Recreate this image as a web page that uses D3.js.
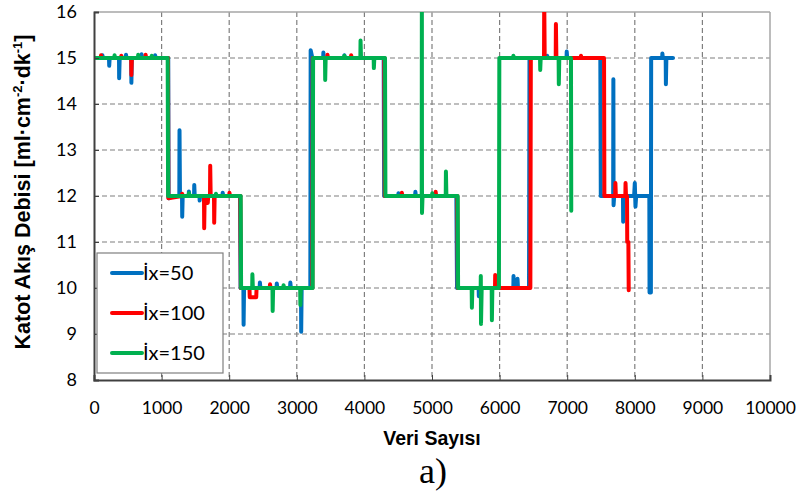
<!DOCTYPE html>
<html>
<head>
<meta charset="utf-8">
<script src="https://cdn.jsdelivr.net/npm/d3@7/dist/d3.min.js"></script>
<style>
  html, body { margin: 0; padding: 0; background: #fff; }
  svg { display: block; }
</style>
</head>
<body>
<svg id="chart" width="799" height="493"></svg>
<script>
// Cathode flow rate measurements, [sample index, flow] pairs per current setting
const seriesNames = ["İx=50", "İx=100", "İx=150"];
const seriesColors = ["#0070C0", "#FF0000", "#00B050"];

const ix50 = [
  [0,15],[120,15],[125,15.06],[132,15],[222,15],[225,14.83],[232,15],[370,15],[372,14.56],[380,15],[470,15],[474,15.07],[480,15],[550,15],[553,14.46],[560,15],
  [700,15],[704,15.08],[712,15],[900,15],[904,15.06],[912,15],[1098,15],[1104,11.95],[1180,12],[1262,12],[1265,13.43],[1272,12],[1302,12],[1305,11.55],[1312,12],
  [1400,12],[1404,12.1],[1412,12],[1480,12],[1483,12.24],[1490,12],[1560,12],[1563,11.9],[1570,12],[1900,12],[1904,12.07],[1912,12],[2160,12],[2168,10],[2210,10],[2213,9.2],[2220,10],
  [2450,10],[2454,10.12],[2462,10],[2700,10],[2704,10.1],[2712,10],[2900,10],[2904,10.12],[2912,10],[3062,10],[3065,9.05],[3072,10],[3200,10],[3205,15.17],[3230,15],
  [3390,15],[3393,15.12],[3400,15],[3700,15],[3704,15.06],[3712,15],[4285,15],[4292,12],[4500,12],[4504,12.06],[4512,12],[4750,12],[4754,12.09],[4762,12],[5360,12],[5370,10],
  [5600,10],[5690,10],[5693,9.82],[5700,10],[6203,10],[6206,10.26],[6213,10],[6262,10],[6265,10.2],[6272,10],[6435,10],[6442,15],
  [6700,15],[6704,15.05],[6712,15],[6990,15],[6993,15.14],[7000,15],[7490,15],[7497,12],[7680,12],[7683,14.54],[7686,11.8],[7695,12],[7825,12],[7828,11.44],[7835,12],
  [7990,12],[8000,12.28],[8010,11.77],[8020,12],[8215,12],[8218,9.9],[8238,9.9],[8242,15],[8405,15],[8408,15.1],[8415,15],
  [8457,15],[8460,14.43],[8467,15],[8565,15]
];

const ix100 = [
  [0,15],[100,15],[104,15.06],[112,15],[400,15],[404,15.05],[412,15],[550,15],[553,14.63],[560,15],[760,15],[764,15.07],[772,15],[1095,15],[1100,11.95],
  [1300,12],[1304,12.05],[1312,12],[1627,12],[1630,11.3],[1637,12],[1680,12],[1683,11.85],[1690,12],[1716,12],[1719,12.66],[1726,12],[1775,12],[1778,11.42],[1785,12],
  [2000,12],[2004,12.07],[2012,12],[2165,12],[2172,10],[2300,10],[2304,9.8],[2400,9.8],[2405,10],[2600,10],[2604,10.08],[2612,10],[3230,10],[3236,15],
  [3450,15],[3454,15.07],[3462,15],[3800,15],[3804,15.06],[3812,15],[4295,15],[4302,12],[4550,12],[4554,12.07],[4562,12],[5050,12],[5054,12.09],[5062,12],[5375,12],[5382,10],
  [5932,10],[5935,10.28],[5942,10],[6455,10],[6462,15],[6657,15],[6660,16.3],[6667,15],[6830,15],[6833,15.74],[6840,15],[7200,15],[7204,15.05],[7212,15],[7545,15],[7550,12],
  [7710,12],[7713,12.28],[7720,12],[7860,12],[7863,12.28],[7870,12],[7885,12],[7888,11],[7905,11],[7910,9.95]
];

const ix150 = [
  [0,15],[300,15],[304,15.06],[312,15],[650,15],[654,15.07],[662,15],[850,15],[854,15.05],[862,15],[1090,15],[1096,12],[1400,12],[1404,12.06],[1412,12],
  [1800,12],[1804,12.05],[1812,12],[2170,12],[2176,10],[2340,10],[2343,10.3],[2350,10],[2640,10],[2643,9.5],[2650,10],[2800,10],[2804,10.06],[2812,10],
  [3050,10],[3053,9.63],[3060,10],[3235,10],[3241,15],[3417,15],[3420,14.52],[3427,15],[3700,15],[3704,15.05],[3712,15],[3940,15],[3943,15.38],[3950,15],
  [4137,15],[4140,14.78],[4147,15],[4305,15],[4311,12],[4848,12],[4850,16.3],[4852,11.63],[4860,12],[5000,12],[5004,12.06],[5012,12],[5203,12],[5206,12.53],[5213,12],
  [5380,12],[5386,10],[5587,10],[5590,9.57],[5597,10],[5720,10],[5722,10.26],[5725,9.22],[5735,10],[5883,10],[5886,9.3],[5893,10],[5990,10],[5996,15],
  [6200,15],[6204,15.05],[6212,15],[6598,15],[6601,14.74],[6608,15],[6873,15],[6876,14.43],[6883,15],[7056,15],[7060,11.68]
];

const seriesData = [ix50, ix100, ix150];
const xTicks = [0,1000,2000,3000,4000,5000,6000,7000,8000,9000,10000];
const yTicks = [8,9,10,11,12,13,14,15,16];

const svg = d3.select("#chart");
const L = 94, R = 770, T = 12, B = 380;

const x = d3.scaleLinear().domain([0, 10000]).range([L, R]);
const y = d3.scaleLinear().domain([8, 16]).range([B, T]);

// dashed grid
const grid = svg.append("g");
grid.selectAll("line.gx").data(xTicks.slice(1, -1)).join("line")
  .attr("x1", d => x(d)).attr("x2", d => x(d)).attr("y1", T).attr("y2", B)
  .attr("stroke", "#7f7f7f").attr("stroke-width", 1.2).attr("stroke-dasharray", "5,3");
grid.selectAll("line.gy").data(yTicks.slice(1, -1)).join("line")
  .attr("x1", L).attr("x2", R).attr("y1", d => y(d)).attr("y2", d => y(d))
  .attr("stroke", "#7f7f7f").attr("stroke-width", 1.2).attr("stroke-dasharray", "5,3");

// light frame on top and right
svg.append("line").attr("x1", L).attr("x2", R).attr("y1", T).attr("y2", T).attr("stroke", "#a6a6a6").attr("stroke-width", 1.5);
svg.append("line").attr("x1", R).attr("x2", R).attr("y1", T).attr("y2", B).attr("stroke", "#a6a6a6").attr("stroke-width", 1.5);

// clip for the series
svg.append("clipPath").attr("id", "plotclip").append("rect")
  .attr("x", L).attr("y", T).attr("width", R - L).attr("height", B - T);

const line = d3.line().x(d => x(d[0])).y(d => y(d[1]));
const lines = svg.append("g").attr("clip-path", "url(#plotclip)");
seriesData.forEach((s, i) => {
  lines.append("path").datum(s).attr("d", line)
    .attr("fill", "none").attr("stroke", seriesColors[i])
    .attr("stroke-width", 4).attr("stroke-linejoin", "round").attr("stroke-linecap", "round");
});

// axes
const xAxis = d3.axisBottom(x).tickValues(xTicks).tickSize(-5).tickPadding(22).tickFormat(d3.format("d"));
const gx = svg.append("g").attr("transform", `translate(0,${B})`).call(xAxis);
gx.select(".domain").attr("stroke", "#404040").attr("stroke-width", 2);
gx.selectAll(".tick line").attr("stroke", "#404040");
gx.selectAll("text").attr("font-family", "Lato, 'Open Sans', sans-serif").attr("font-size", 17.5).attr("fill", "#000");

const yAxis = d3.axisLeft(y).tickValues(yTicks).tickSize(-5).tickPadding(17).tickFormat(d3.format("d"));
const gy = svg.append("g").attr("transform", `translate(${L},0)`).call(yAxis);
gy.select(".domain").attr("stroke", "#404040").attr("stroke-width", 2);
gy.selectAll(".tick line").attr("stroke", "#404040");
gy.selectAll("text").attr("font-family", "Lato, 'Open Sans', sans-serif").attr("font-size", 18).attr("fill", "#000");

// axis titles
svg.append("text").attr("x", 432).attr("y", 445).attr("text-anchor", "middle")
  .attr("font-family", "'Liberation Sans Narrow', 'Liberation Sans', Arial, sans-serif")
  .attr("font-weight", "bold").attr("font-size", 19.5).text("Veri Sayısı");

const yt = svg.append("text").attr("transform", "translate(30,192) rotate(-90)").attr("text-anchor", "middle")
  .attr("font-family", "'Liberation Sans', Arial, sans-serif")
  .attr("font-weight", "bold").attr("font-size", 21.5);
yt.append("tspan").text("Katot Akış Debisi [ml·cm");
yt.append("tspan").attr("font-size", 13).attr("dy", -8).text("-2");
yt.append("tspan").attr("dy", 8).text("·dk");
yt.append("tspan").attr("font-size", 13).attr("dy", -8).text("-1");
yt.append("tspan").attr("dy", 8).text("]");

svg.append("text").attr("x", 433).attr("y", 483).attr("text-anchor", "middle")
  .attr("font-family", "'Liberation Serif', 'Times New Roman', serif").attr("font-size", 36).text("a)");

// legend
const lg = svg.append("g");
lg.append("rect").attr("x", 97).attr("y", 253).attr("width", 126).attr("height", 120)
  .attr("fill", "#fff").attr("stroke", "#7f7f7f").attr("stroke-width", 1.2);
seriesNames.forEach((n, i) => {
  const cy = 273 + i * 40;
  lg.append("line").attr("x1", 112).attr("x2", 142).attr("y1", cy).attr("y2", cy)
    .attr("stroke", seriesColors[i]).attr("stroke-width", 4).attr("stroke-linecap", "round");
  lg.append("text").attr("x", 143).attr("y", cy + 7).attr("font-family", "Lato, 'Open Sans', sans-serif")
    .attr("font-size", 20).attr("fill", "#000").text(n);
});
</script>
</body>
</html>
